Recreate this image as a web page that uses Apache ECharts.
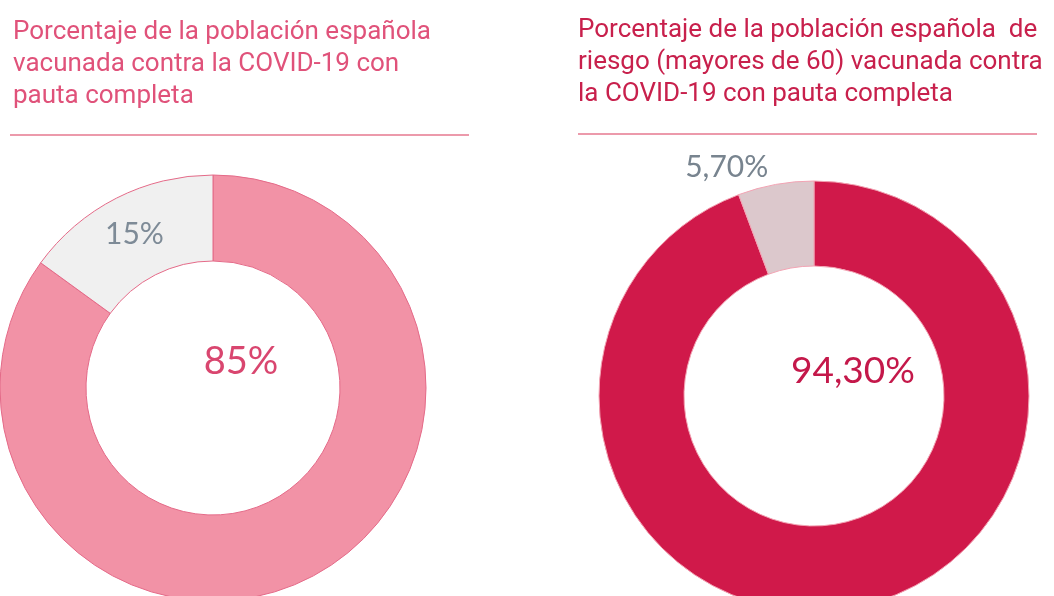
<!DOCTYPE html>
<html>
<head>
<meta charset="utf-8">
<script src="https://cdn.jsdelivr.net/npm/echarts@6/dist/echarts.min.js"></script>
<style>
  html, body { margin: 0; padding: 0; background: #fff; }
  #chart { width: 1054px; height: 596px; }
</style>
</head>
<body>
<div id="chart"></div>
<script>
  // data
  var totalNames = ['Vacunada', 'No vacunada']
  var totalValues = [85, 15]
  var totalLabels = ['85%', '15%']

  var riskNames = ['Vacunada', 'No vacunada']
  var riskValues = [94.3, 5.7]
  var riskLabels = ['94,30%', '5,70%']

  var titleLeft = 'Porcentaje de la población española\nvacunada contra la COVID-19 con\npauta completa'
  var titleRight = 'Porcentaje de la población española  de\nriesgo (mayores de 60) vacunada contra\nla COVID-19 con pauta completa'

  var labelFont = 'Lato, "Open Sans", sans-serif'

  function buildData(names, values, labels, colors, bigLabel, smallLabel) {
    return names.map(function (n, i) {
      return {
        name: n,
        value: values[i],
        itemStyle: { color: colors[i] },
        label: Object.assign({ show: true, formatter: labels[i] }, i === 0 ? bigLabel : smallLabel)
      }
    })
  }

  var myChart = echarts.init(document.getElementById('chart'))
  myChart.setOption({
    animation: false,
    title: [
      {
        text: titleLeft,
        left: 8,
        top: 11,
        textStyle: {
          fontFamily: 'Roboto, sans-serif',
          fontWeight: 'normal',
          fontSize: 26,
          lineHeight: 32,
          color: '#E0527A'
        }
      },
      {
        text: titleRight,
        left: 573,
        top: 9,
        textStyle: {
          fontFamily: 'Roboto, sans-serif',
          fontWeight: 'normal',
          fontSize: 26,
          lineHeight: 32,
          color: '#C8204C'
        }
      }
    ],
    graphic: [
      { type: 'line', shape: { x1: 10, y1: 135, x2: 469, y2: 135 }, style: { stroke: '#EC9AAB', lineWidth: 2 } },
      { type: 'line', shape: { x1: 578, y1: 134, x2: 1037, y2: 134 }, style: { stroke: '#EC9AAB', lineWidth: 2 } }
    ],
    series: [
      {
        name: 'total',
        type: 'pie',
        center: [213, 388],
        radius: [127, 213],
        startAngle: 90,
        clockwise: true,
        labelLine: { show: false },
        itemStyle: { borderColor: '#E46A88', borderWidth: 1 },
        emphasis: { disabled: true },
        data: buildData(totalNames, totalValues, totalLabels, ['#F292A6', '#F0F0F0'],
          { position: 'center', offset: [28, -26], fontFamily: labelFont, fontSize: 38, color: '#D9466F' },
          { position: 'inside', fontFamily: labelFont, fontSize: 30, color: '#7E8B97' })
      },
      {
        name: 'riesgo',
        type: 'pie',
        center: [814, 396],
        radius: [130, 215],
        startAngle: 90,
        clockwise: true,
        labelLine: { show: false },
        itemStyle: { borderColor: '#F2A3B3', borderWidth: 1 },
        emphasis: { disabled: true },
        data: buildData(riskNames, riskValues, riskLabels, ['#D0194A', '#DCC8CC'],
          { position: 'center', offset: [39, -25], fontFamily: labelFont, fontSize: 37, color: '#C4184A' },
          { position: 'inside', offset: [-56, -56], fontFamily: labelFont, fontSize: 30, color: '#78848F' })
      }
    ]
  })
</script>
</body>
</html>
